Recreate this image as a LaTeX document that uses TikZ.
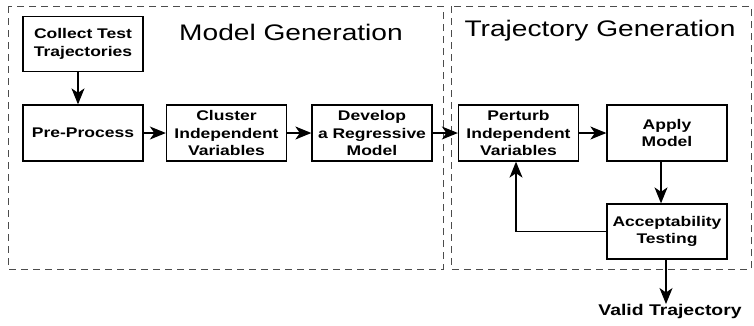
\documentclass[tikz,border=0pt]{standalone}
\usepackage{fontspec}
\setmainfont{Liberation Sans}[FakeStretch=1.25]
\usetikzlibrary{arrows.meta}

\tikzset{
  stage/.style={draw=black, line width=1.3pt, minimum width=120pt, minimum height=55pt,
    align=center, inner sep=0pt, font=\fontsize{14}{17.5}\selectfont\bfseries},
  region/.style={draw=black!70, line width=0.9pt, dash pattern=on 7pt off 5pt},
  heading/.style={font=\fontsize{22.5}{25}\selectfont, inner sep=0pt},
  flow/.style={line width=1.2pt, -{Stealth[length=16pt, width=13pt, inset=4.5pt]}},
}

\begin{document}
\begin{tikzpicture}[x=1pt, y=-1pt]
  \useasboundingbox[fill=white] (0,0) rectangle (754,325);

  % the two phases
  \draw[region] (8,6) rectangle (443,269);
  \draw[region] (451,6) rectangle (751,269);
  \node[heading] (mgtitle) at (291,32) {Model Generation};
  \node[heading] (tgtitle) at (600,31) {Trajectory Generation};

  % model generation steps
  \node[stage] (collect) at (83,44)    {Collect Test\\Trajectories};
  \node[stage, minimum height=56pt] (pre)     at (83,133)   {Pre-Process};
  \node[stage, minimum height=56pt] (cluster) at (226.5,133) {Cluster\\Independent\\Variables};
  \node[stage, minimum height=56pt] (develop) at (372,133)  {Develop\\a Regressive\\Model};

  % trajectory generation steps
  \node[stage, minimum height=56pt] (perturb) at (518.5,133) {Perturb\\Independent\\Variables};
  \node[stage, minimum height=56pt] (apply)   at (667,133)   {Apply\\Model};
  \node[stage] (accept)  at (667,231.5) {Acceptability\\Testing};
  \node[font=\fontsize{15.5}{18}\selectfont\bfseries, inner sep=0pt, anchor=north] (valid) at (670,304) {Valid Trajectory};

  % connectors
  \draw[flow] ([xshift=-5pt]collect.south) -- ([xshift=-5pt]pre.north);
  \draw[flow] (pre) -- (cluster);
  \draw[flow] (cluster) -- (develop);
  \draw[flow] (develop) -- (perturb);
  \draw[flow] (perturb) -- (apply);
  \draw[flow] ([xshift=-6pt]apply.south) -- ([xshift=-6pt]accept.north);
  \draw[flow] (accept.west) -| ([xshift=-2.5pt]perturb.south);
  \draw[flow] ([xshift=-1pt]accept.south) -- ([xshift=-4pt]valid.north);
\end{tikzpicture}
\end{document}
